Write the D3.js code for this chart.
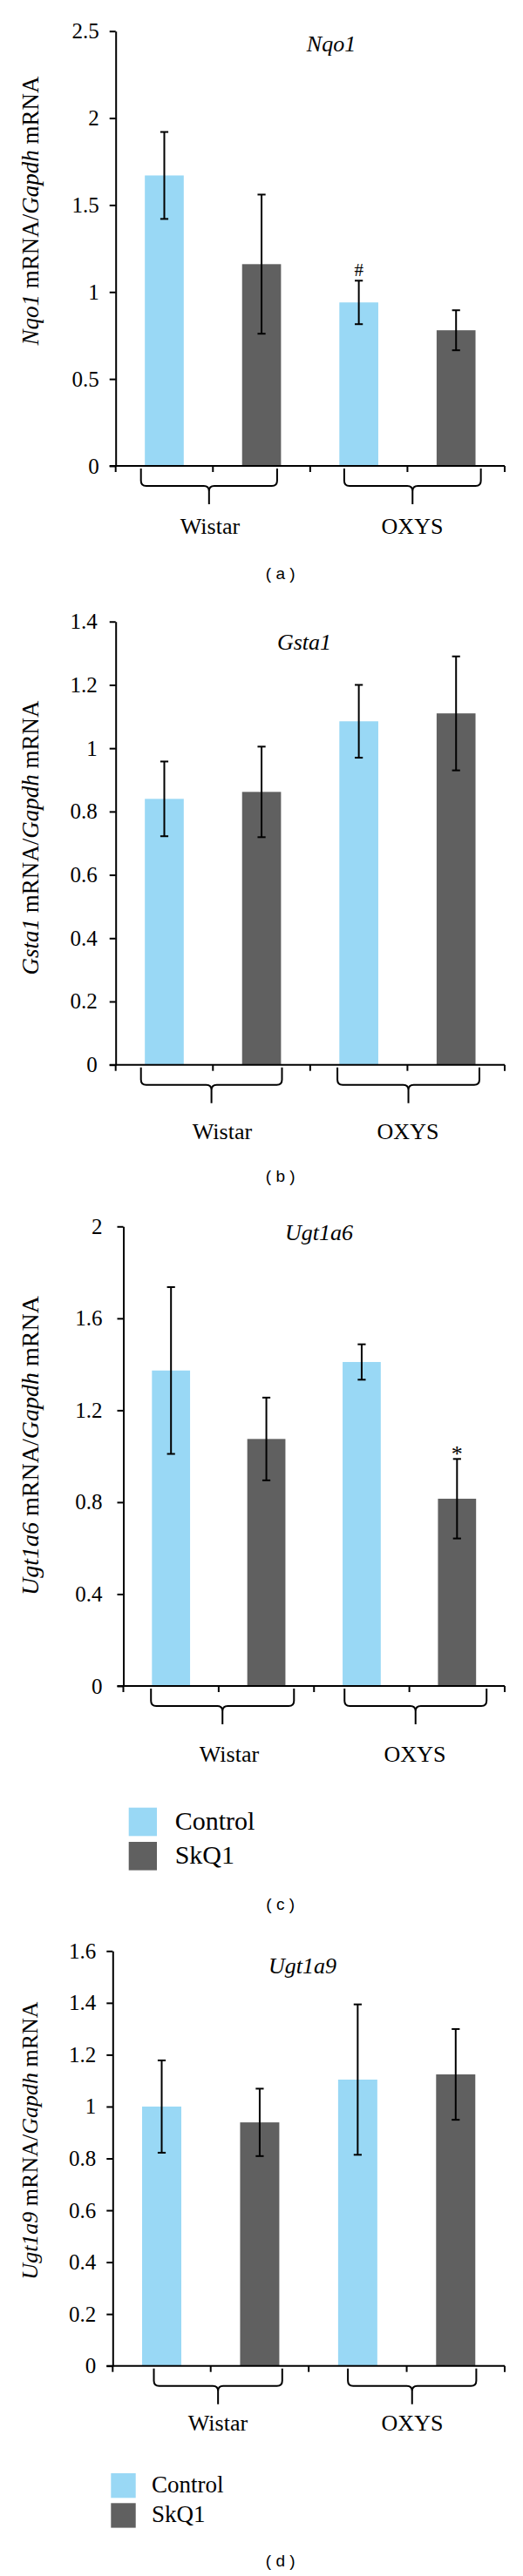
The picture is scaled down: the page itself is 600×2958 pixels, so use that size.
<!DOCTYPE html>
<html>
<head>
<meta charset="utf-8">
<script src="https://cdn.jsdelivr.net/npm/d3@7"></script>
<style>
  html, body { margin: 0; padding: 0; background: #fff; }
  svg { display: block; }
</style>
</head>
<body>
<svg id="chart" width="600" height="2958"></svg>
<script>
// ---------------- DATA ----------------
const groups = ["Wistar", "OXYS"];
const seriesNames = ["Control", "SkQ1"];

// Nqo1
const nqo1Control = [1.67, 0.94];
const nqo1ControlErr = [0.25, 0.125];
const nqo1SkQ1 = [1.16, 0.78];
const nqo1SkQ1Err = [0.40, 0.115];
const nqo1Ticks = [0, 0.5, 1, 1.5, 2, 2.5];
const nqo1Marks = ["", "", "#", ""];

// Gsta1
const gsta1Control = [0.84, 1.085];
const gsta1ControlErr = [0.118, 0.115];
const gsta1SkQ1 = [0.862, 1.11];
const gsta1SkQ1Err = [0.143, 0.18];
const gsta1Ticks = [0, 0.2, 0.4, 0.6, 0.8, 1, 1.2, 1.4];
const gsta1Marks = ["", "", "", ""];

// Ugt1a6
const ugt1a6Control = [1.373, 1.41];
const ugt1a6ControlErr = [0.363, 0.077];
const ugt1a6SkQ1 = [1.075, 0.815];
const ugt1a6SkQ1Err = [0.18, 0.173];
const ugt1a6Ticks = [0, 0.4, 0.8, 1.2, 1.6, 2];
const ugt1a6Marks = ["", "", "", "*"];

// Ugt1a9
const ugt1a9Control = [1.0, 1.104];
const ugt1a9ControlErr = [0.178, 0.29];
const ugt1a9SkQ1 = [0.939, 1.124];
const ugt1a9SkQ1Err = [0.13, 0.175];
const ugt1a9Ticks = [0, 0.2, 0.4, 0.6, 0.8, 1, 1.2, 1.4, 1.6];
const ugt1a9Marks = ["", "", "", ""];

// ---------------- STYLE / LAYOUT ----------------
const colors = { Control: "#99d8f5", SkQ1: "#606060" };
const SERIF = "'Liberation Serif', 'Times New Roman', serif";
const SANS = "'Liberation Sans', Arial, sans-serif";

const panels = [
  { gene: "Nqo1", control: nqo1Control, controlErr: nqo1ControlErr, skq: nqo1SkQ1, skqErr: nqo1SkQ1Err,
    ticks: nqo1Ticks, marks: nqo1Marks, caption: "( a )",
    L: { left: 132.7, right: 579, top: 35.7, bottom: 535, tickGap: 12,
         yLabX: 44, yLabY: 242, yLabSize: 27, titleX: 380, titleY: 59,
         grpY: 613, grpX: [241, 473], braces: [[0.26, 0.34], [0.35, 0.245]],
         capY: 665, legend: null } },
  { gene: "Gsta1", control: gsta1Control, controlErr: gsta1ControlErr, skq: gsta1SkQ1, skqErr: gsta1SkQ1Err,
    ticks: gsta1Ticks, marks: gsta1Marks, caption: "( b )",
    L: { left: 132.7, right: 579, top: 713.75, bottom: 1222.7, tickGap: 14,
         yLabX: 44, yLabY: 962, yLabSize: 27, titleX: 349, titleY: 746,
         grpY: 1308, grpX: [255, 468], braces: [[0.26, 0.29], [0.28, 0.26]],
         capY: 1357, legend: null } },
  { gene: "Ugt1a6", control: ugt1a6Control, controlErr: ugt1a6ControlErr, skq: ugt1a6SkQ1, skqErr: ugt1a6SkQ1Err,
    ticks: ugt1a6Ticks, marks: ugt1a6Marks, caption: "( c )",
    L: { left: 141.5, right: 579, top: 1408.3, bottom: 1936, tickGap: 17,
         yLabX: 43.5, yLabY: 1660, yLabSize: 28, titleX: 366, titleY: 1424,
         grpY: 2023, grpX: [263, 476], braces: [[0.29, 0.21], [0.32, 0.19]],
         capY: 2193, legend: { x: 147.7, y: 2075.7, w: 32.3, h: 32.6, gap: 39.3, tx: 200.7, size: 30 } } },
  { gene: "Ugt1a9", control: ugt1a9Control, controlErr: ugt1a9ControlErr, skq: ugt1a9SkQ1, skqErr: ugt1a9SkQ1Err,
    ticks: ugt1a9Ticks, marks: ugt1a9Marks, caption: "( d )",
    L: { left: 129.3, right: 579, top: 2240.3, bottom: 2716.7, tickGap: 12,
         yLabX: 43, yLabY: 2458, yLabSize: 26, titleX: 347, titleY: 2266,
         grpY: 2791, grpX: [250, 473], braces: [[0.42, 0.27], [0.40, 0.29]],
         capY: 2947, legend: { x: 127.3, y: 2840, w: 28.4, h: 28.3, gap: 34.3, tx: 174, size: 27 } } }
];

const svg = d3.select("#chart");

panels.forEach(p => {
  const L = p.L;
  const g = svg.append("g");

  const bars = [];
  groups.forEach((grp, gi) => {
    bars.push({ key: grp + "-Control", series: "Control", v: p.control[gi], e: p.controlErr[gi], mark: p.marks[gi * 2] });
    bars.push({ key: grp + "-SkQ1", series: "SkQ1", v: p.skq[gi], e: p.skqErr[gi], mark: p.marks[gi * 2 + 1] });
  });

  const x = d3.scaleBand().domain(bars.map(d => d.key)).range([L.left, L.right]).padding(0);
  const y = d3.scaleLinear().domain([0, d3.max(p.ticks)]).range([L.bottom, L.top]);
  const bw = x.bandwidth() * 0.4;

  // bars
  g.selectAll("rect.bar").data(bars).enter().append("rect")
    .attr("class", "bar")
    .attr("x", d => x(d.key) + (x.bandwidth() - bw) / 2)
    .attr("width", bw)
    .attr("y", d => y(d.v))
    .attr("height", d => y(0) - y(d.v))
    .attr("fill", d => colors[d.series]);

  // error bars
  const cap = 4.6;
  const eb = g.selectAll("g.err").data(bars).enter().append("g").attr("class", "err")
    .attr("stroke", "#000").attr("stroke-width", 2).attr("fill", "none");
  eb.append("line")
    .attr("x1", d => x(d.key) + x.bandwidth() / 2).attr("x2", d => x(d.key) + x.bandwidth() / 2)
    .attr("y1", d => y(d.v + d.e)).attr("y2", d => y(d.v - d.e));
  eb.append("line")
    .attr("x1", d => x(d.key) + x.bandwidth() / 2 - cap).attr("x2", d => x(d.key) + x.bandwidth() / 2 + cap)
    .attr("y1", d => y(d.v + d.e)).attr("y2", d => y(d.v + d.e));
  eb.append("line")
    .attr("x1", d => x(d.key) + x.bandwidth() / 2 - cap).attr("x2", d => x(d.key) + x.bandwidth() / 2 + cap)
    .attr("y1", d => y(d.v - d.e)).attr("y2", d => y(d.v - d.e));

  // significance marks
  g.selectAll("text.mark").data(bars.filter(d => d.mark)).enter().append("text")
    .attr("class", "mark")
    .attr("x", d => x(d.key) + x.bandwidth() / 2)
    .attr("y", d => y(d.v + d.e) + (d.mark === "*" ? 3 : -5))
    .attr("text-anchor", "middle")
    .attr("font-family", SERIF)
    .attr("font-size", d => d.mark === "*" ? 26 : 21)
    .text(d => d.mark);

  // y axis
  const yAxis = d3.axisLeft(y).tickValues(p.ticks).tickSize(7).tickSizeOuter(0)
    .tickPadding(L.tickGap).tickFormat(d => String(d));
  const ya = g.append("g").attr("transform", `translate(${L.left},0)`).call(yAxis);
  ya.select(".domain").attr("stroke", "#000").attr("stroke-width", 2);
  ya.selectAll(".tick line").attr("stroke", "#000").attr("stroke-width", 2);
  ya.selectAll(".tick text").attr("font-family", SERIF).attr("font-size", 25).attr("fill", "#000");

  // x axis line with boundary ticks
  const xa = g.append("g").attr("stroke", "#000").attr("stroke-width", 2);
  xa.append("line").attr("x1", L.left - 7).attr("x2", L.right).attr("y1", y(0)).attr("y2", y(0));
  const bounds = bars.map(d => x(d.key)).concat([x.range()[1]]);
  xa.selectAll("line.xt").data(bounds).enter().append("line")
    .attr("class", "xt")
    .attr("x1", d => d).attr("x2", d => d)
    .attr("y1", y(0)).attr("y2", y(0) + 7);

  // braces under groups
  const step = x.step();
  groups.forEach((grp, gi) => {
    const k0 = bars[gi * 2].key, k1 = bars[gi * 2 + 1].key;
    const xl = x(k0) + L.braces[gi][0] * step;
    const xr = x(k1) + step - L.braces[gi][1] * step;
    const xc = (xl + xr) / 2;
    const yt = y(0) + 3, yh = y(0) + 23, yb = y(0) + 44, r = 6;
    const path = `M${xl},${yt} L${xl},${yh - r} Q${xl},${yh} ${xl + r},${yh} L${xc - r},${yh} Q${xc},${yh} ${xc},${yh + r} L${xc},${yb}` +
                 ` M${xr},${yt} L${xr},${yh - r} Q${xr},${yh} ${xr - r},${yh} L${xc + r},${yh} Q${xc},${yh} ${xc},${yh + r}`;
    g.append("path").attr("d", path).attr("fill", "none").attr("stroke", "#000").attr("stroke-width", 2);
    g.append("text")
      .attr("x", L.grpX[gi]).attr("y", L.grpY)
      .attr("text-anchor", "middle")
      .attr("font-family", SERIF).attr("font-size", 26)
      .text(grp);
  });

  // title
  g.append("text").attr("x", L.titleX).attr("y", L.titleY)
    .attr("text-anchor", "middle").attr("font-family", SERIF).attr("font-size", 26)
    .attr("font-style", "italic").text(p.gene);

  // y label
  const yl = g.append("text")
    .attr("transform", `translate(${L.yLabX},${L.yLabY}) rotate(-90)`)
    .attr("text-anchor", "middle").attr("font-family", SERIF).attr("font-size", L.yLabSize);
  yl.append("tspan").attr("font-style", "italic").text(p.gene);
  yl.append("tspan").text(" mRNA/");
  yl.append("tspan").attr("font-style", "italic").text("Gapdh");
  yl.append("tspan").text(" mRNA");

  // legend
  if (L.legend) {
    const lg = L.legend;
    seriesNames.forEach((s, i) => {
      g.append("rect").attr("x", lg.x).attr("y", lg.y + i * lg.gap)
        .attr("width", lg.w).attr("height", lg.h).attr("fill", colors[s]);
      g.append("text").attr("x", lg.tx).attr("y", lg.y + i * lg.gap + lg.h * 0.78)
        .attr("font-family", SERIF).attr("font-size", lg.size).text(s);
    });
  }

  // caption
  g.append("text").attr("x", 321.7).attr("y", L.capY)
    .attr("text-anchor", "middle").attr("font-family", SANS).attr("font-size", 19)
    .attr("xml:space", "preserve").style("white-space", "pre")
    .text(p.caption);
});
</script>
</body>
</html>
